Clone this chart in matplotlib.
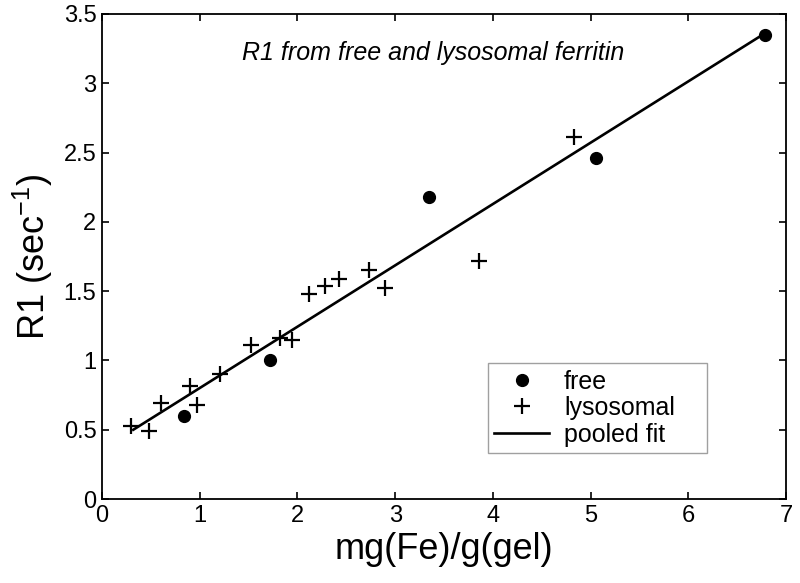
import numpy as np
import matplotlib
matplotlib.use("Agg")
import matplotlib.pyplot as plt

plt.rcParams['font.family'] = ['Liberation Sans', 'DejaVu Sans']

# free ferritin
free_x = [0.84, 1.72, 3.35, 5.06, 6.78]
free_y = [0.60, 1.00, 2.18, 2.46, 3.35]

# lysosomal ferritin
lyso_x = [0.30, 0.48, 0.60, 0.90, 0.97, 1.21, 1.52, 1.82, 1.94,
          2.12, 2.28, 2.43, 2.73, 2.90, 3.86, 4.83]
lyso_y = [0.53, 0.49, 0.69, 0.815, 0.68, 0.90, 1.11, 1.16, 1.15,
          1.48, 1.54, 1.59, 1.65, 1.52, 1.72, 2.61]

# pooled fit line endpoints
fit_x = [0.32, 6.76]
fit_y = [0.50, 3.35]

fig = plt.figure(figsize=(8, 5.83), dpi=100)
ax = fig.add_axes([0.1275, 0.144, 0.855, 0.832])

ax.plot(free_x, free_y, 'o', color='black', markersize=8.5, label='free')
ax.plot(lyso_x, lyso_y, '+', color='black', markersize=11, markeredgewidth=1.6, label='lysosomal')
ax.plot(fit_x, fit_y, '-', color='black', linewidth=1.9, label='pooled fit')

ax.set_xlim(0, 7)
ax.set_ylim(0, 3.5)
ax.set_xticks(np.arange(0, 8, 1))
ax.set_yticks(np.arange(0, 3.51, 0.5))
ax.set_xticklabels([str(v) for v in range(8)])
ax.set_yticklabels(['0', '0.5', '1', '1.5', '2', '2.5', '3', '3.5'])
ax.tick_params(direction='in', top=True, right=True, length=5, width=1.2,
               labelsize=17, pad=4)
for s in ax.spines.values():
    s.set_linewidth(1.3)

ax.set_xlabel('mg(Fe)/g(gel)', fontsize=26, labelpad=4)
ax.set_ylabel('R1 (sec$^{\\mathregular{-1}}$)', fontsize=26, labelpad=6)

ax.text(3.39, 3.22, 'R1 from free and lysosomal ferritin', fontsize=18,
        style='italic', ha='center', va='center')

leg = ax.legend(loc='lower left', bbox_to_anchor=(0.564, 0.095, 0.321, 0.202),
                mode='expand', fontsize=18, frameon=True, fancybox=False,
                edgecolor='#888888', handlelength=2.2, handletextpad=0.6,
                borderpad=0.25, labelspacing=0.1, borderaxespad=0)
leg.get_frame().set_linewidth(1.0)

fig.savefig('out.png', dpi=100)
